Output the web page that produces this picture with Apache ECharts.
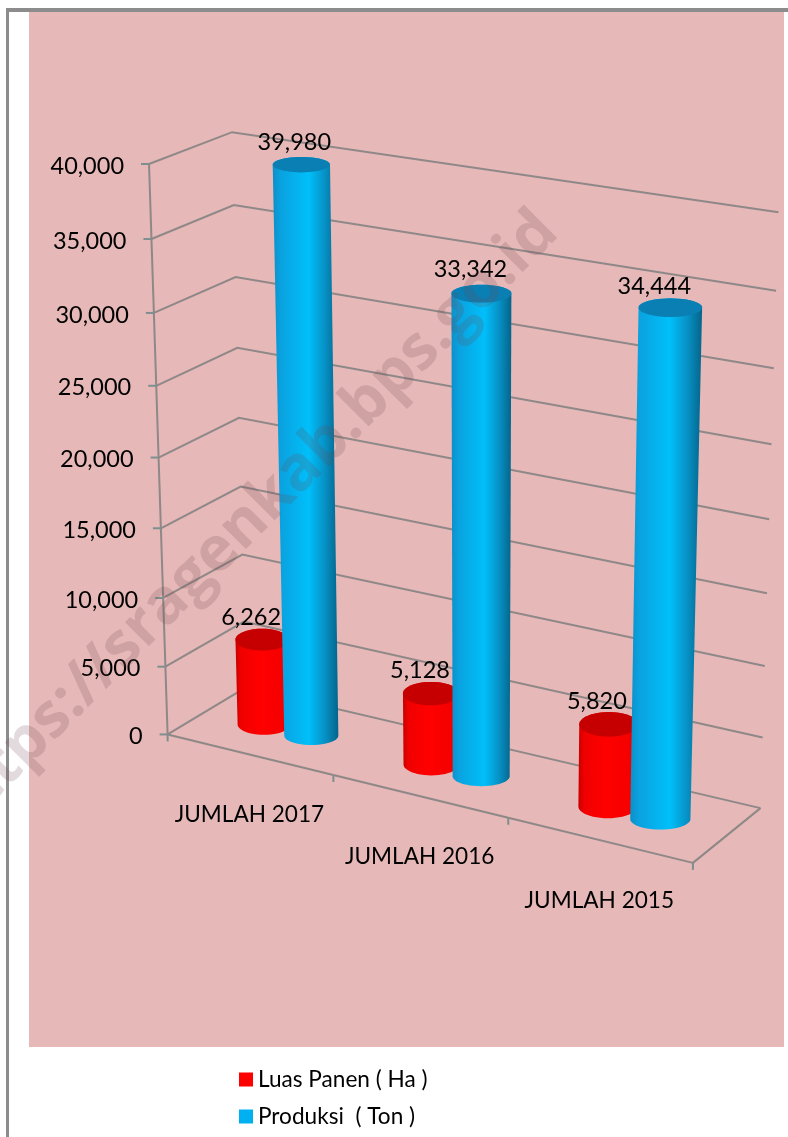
<!DOCTYPE html>
<html><head><meta charset="utf-8">
<style>html,body{margin:0;padding:0;background:#fff}#c{width:788px;height:1137px}</style>
<script src="https://cdn.jsdelivr.net/npm/echarts@6/dist/echarts.min.js"></script>
</head><body><div id="c"></div>
<script>
const categories = ['JUMLAH 2017', 'JUMLAH 2016', 'JUMLAH 2015'];
const luasPanen = [6262, 5128, 5820];
const produksi = [39980, 33342, 34444];
const yTicks = [0, 5000, 10000, 15000, 20000, 25000, 30000, 35000, 40000];
const seriesNames = ['Luas Panen ( Ha )', 'Produksi  ( Ton )'];
const FONT = 'Lato, "Open Sans", sans-serif';

// calibration of the 3D box: [u, depth, v, px, py]
const CAL = [
 [0,0,0,167,734],[1,0,0,693,863],[0,1,0,247,688],[1,1,0,760,808],
 [0,0,1,149.5,164],[0,1,1,232,133],[1,1,1,778,212],[1,1,.875,777,291],
 [0,1,.875,233,205],[0,1,.75,235,276],[0,0,.875,152,239],[0,0,.75,154,313],
 [0,0,.25,163,598],[0,0,.125,165,667]
];
function solve(A,b){const n=b.length;for(let i=0;i<n;i++){let p=i;for(let r=i+1;r<n;r++)if(Math.abs(A[r][i])>Math.abs(A[p][i]))p=r;
 [A[i],A[p]]=[A[p],A[i]];[b[i],b[p]]=[b[p],b[i]];for(let r=i+1;r<n;r++){const f=A[r][i]/A[i][i];for(let c=i;c<n;c++)A[r][c]-=f*A[i][c];b[r]-=f*b[i];}}
 const x=new Array(n);for(let i=n-1;i>=0;i--){let s=b[i];for(let c=i+1;c<n;c++)s-=A[i][c]*x[c];x[i]=s/A[i][i];}return x;}
const P=(function(){const N=Array.from({length:11},()=>new Array(11).fill(0)),R=new Array(11).fill(0);
 function add(row,t){for(let i=0;i<11;i++){R[i]+=row[i]*t;for(let j=0;j<11;j++)N[i][j]+=row[i]*row[j];}}
 CAL.forEach(([X,Y,Z,x,y])=>{add([X,Y,Z,1,0,0,0,0,-x*X,-x*Y,-x*Z],x);add([0,0,0,0,X,Y,Z,1,-y*X,-y*Y,-y*Z],y);});
 return solve(N,R);})();
function proj(u,d,v){const w=P[8]*u+P[9]*d+P[10]*v+1;return [(P[0]*u+P[1]*d+P[2]*v+P[3])/w,(P[4]*u+P[5]*d+P[6]*v+P[7])/w];}

// read a data point through the hidden cartesian axes, as unit box coordinates
function unit(api,catIdx,val){
 const c=api.coord([catIdx,val]),band=api.size([1,0])[0],l=api.coord([0,0])[0]-band/2;
 const y0=api.coord([0,0])[1],y1=api.coord([0,40000])[1];
 return {u:(c[0]-l)/(3*band),v:(y0-c[1])/(y0-y1),band:1/3};
}
function ell(c,rx,ry,n){const o=[];for(let i=0;i<n;i++){const a=i/n*2*Math.PI;o.push([c[0]+rx*Math.cos(a),c[1]+ry*Math.sin(a)]);}return o;}
function hull(pts){const p=pts.slice().sort((a,b)=>a[0]-b[0]||a[1]-b[1]);const cr=(o,a,b)=>(a[0]-o[0])*(b[1]-o[1])-(a[1]-o[1])*(b[0]-o[0]);
 const lo=[],up=[];p.forEach(q=>{while(lo.length>1&&cr(lo[lo.length-2],lo[lo.length-1],q)<=0)lo.pop();lo.push(q);});
 p.slice().reverse().forEach(q=>{while(up.length>1&&cr(up[up.length-2],up[up.length-1],q)<=0)up.pop();up.push(q);});
 return lo.slice(0,-1).concat(up.slice(0,-1));}
const STY=[
 {off:-0.148,r:0.054,dp:.5,base:.40,labX:[-11,-11,-12],labY:[-11,-11,-11],top:'#C60000',stops:[[0,'#C80000'],[.1,'#F00000'],[.45,'#FF0000'],[.85,'#F50000'],[1,'#C00000']]},
 {off:0.14,r:0.0545,dp:.5,base:.35,labX:[-7,-11,-16],labY:[-14,-15,-12],top:'#0A7FB4',stops:[[0,'#0C8FC8'],[.12,'#0AA2DF'],[.55,'#00BFFA'],[.8,'#0790C4'],[1,'#05648A']]}
];
function cylinder(idx){return function(params,api){
 const s=STY[idx],m=unit(api,api.value(0),api.value(1));
 const u=m.u+s.off*m.band,d=s.dp,k=params.dataIndex;
 const b=proj(u,d,0),t=proj(u,d,m.v);
 const rxOf=v=>Math.abs(proj(u+s.r,d,v)[0]-proj(u-s.r,d,v)[0])/2;
 const rb=rxOf(0),rt=rxOf(m.v);
 const ry=rt*(.44-.17*m.v);
 const be=ell(b,rb,rb*s.base,48),te=ell(t,rt,ry,48);
 return {type:'group',children:[
  {type:'polygon',shape:{points:hull(be.concat(te))},style:{fill:{type:'linear',x:0,y:0,x2:1,y2:0,colorStops:s.stops.map(q=>({offset:q[0],color:q[1]}))}}},
  {type:'polygon',shape:{points:te},style:{fill:s.top}},
  {type:'text',z2:50,style:{text:api.value(1).toLocaleString('en-US'),x:t[0]+s.labX[k],y:t[1]-ry+s.labY[k],align:'center',verticalAlign:'middle',font:'23.5px '+FONT,fill:'#000'}}
 ]};
};}
const LINE={stroke:'#8F8888',lineWidth:2,fill:null};
const TICK={stroke:'#7E8F90',lineWidth:2,fill:null};
function wall(params,api){
 const m=unit(api,0,api.value(1));
 const a=proj(0,0,m.v),b=proj(0,1,m.v),c=proj(1,1,m.v);
 const ch=[
  {type:'polyline',shape:{points:[a,b,c]},style:LINE},
  {type:'line',shape:{x1:a[0]-8,y1:a[1],x2:a[0],y2:a[1]},style:TICK},
  {type:'text',style:{text:api.value(1).toLocaleString('en-US'),x:a[0]-25,y:a[1]+2,align:'right',verticalAlign:'middle',font:'23.5px '+FONT,fill:'#000'}}
 ];
 if(m.v===0){const t=proj(0,0,1);ch.push({type:'line',shape:{x1:a[0],y1:a[1],x2:t[0],y2:t[1]},style:LINE});}
 return {type:'group',children:ch};
}
function floor(params,api){
 const i=api.value(0),m=unit(api,i,0),band=m.band;
 const l=proj(i*band,0,0),r=proj((i+1)*band,0,0),mid=proj(m.u,0,0);
 const ch=[
  {type:'line',shape:{x1:l[0],y1:l[1],x2:r[0],y2:r[1]},style:LINE},
  {type:'line',shape:{x1:r[0],y1:r[1],x2:r[0],y2:r[1]+7},style:TICK},
  {type:'text',style:{text:categories[i],x:mid[0],y:mid[1]+60.5,align:'center',verticalAlign:'middle',font:'22.6px '+FONT,fill:'#000'}}
 ];
 if(i===0)ch.push({type:'line',shape:{x1:l[0],y1:l[1],x2:l[0],y2:l[1]+7},style:TICK});
 if(i===2){const e=proj(1,1,0);ch.push({type:'line',shape:{x1:r[0],y1:r[1],x2:e[0],y2:e[1]},style:LINE});}
 return {type:'group',children:ch};
}
const chart=echarts.init(document.getElementById('c'),null,{renderer:'canvas'});
chart.setOption({
 animation:false,backgroundColor:'#fff',
 grid:{left:100,top:100,width:300,height:400},
 xAxis:{type:'category',data:categories,show:false},
 yAxis:{type:'value',min:0,max:40000,interval:5000,show:false},
 legend:{orient:'vertical',left:234,top:1063,padding:5,icon:'rect',itemWidth:14,itemHeight:14,itemGap:14,
  data:seriesNames,textStyle:{fontFamily:'Lato',fontSize:22.6,color:'#000'},selectedMode:false},
 graphic:[
  {type:'rect',z:-1,silent:true,shape:{x:29,y:12,width:755,height:1035},style:{fill:'#E6B8B7'}},
  {type:'rect',z:-1,silent:true,shape:{x:6,y:8,width:782,height:4},style:{fill:'#8C8C8C'}},
  {type:'rect',z:-1,silent:true,shape:{x:6,y:8,width:3,height:1129},style:{fill:'#8C8C8C'}},
  {type:'text',z:100,silent:true,x:548,y:222,rotation:Math.PI/4,style:{text:'https://sragenkab.bps.go.id',x:0,y:0,align:'right',verticalAlign:'middle',font:'bold 62px "Open Sans", sans-serif',fill:'rgba(110,70,80,0.2)'}}
 ],
 series:[
  {type:'custom',name:'walls',silent:true,z:1,clip:false,encode:{x:0,y:1},renderItem:wall,data:yTicks.map(v=>[categories[0],v])},
  {type:'custom',name:'floor',silent:true,z:1,clip:false,encode:{x:0,y:1},renderItem:floor,data:categories.map(c=>[c,0])},
  {type:'custom',name:seriesNames[0],silent:true,z:2,clip:false,itemStyle:{color:'#FF0000'},encode:{x:0,y:1},renderItem:cylinder(0),data:categories.map((c,i)=>[c,luasPanen[i]])},
  {type:'custom',name:seriesNames[1],silent:true,z:3,clip:false,itemStyle:{color:'#00B0F0'},encode:{x:0,y:1},renderItem:cylinder(1),data:categories.map((c,i)=>[c,produksi[i]])}
 ]
});
</script></body></html>
